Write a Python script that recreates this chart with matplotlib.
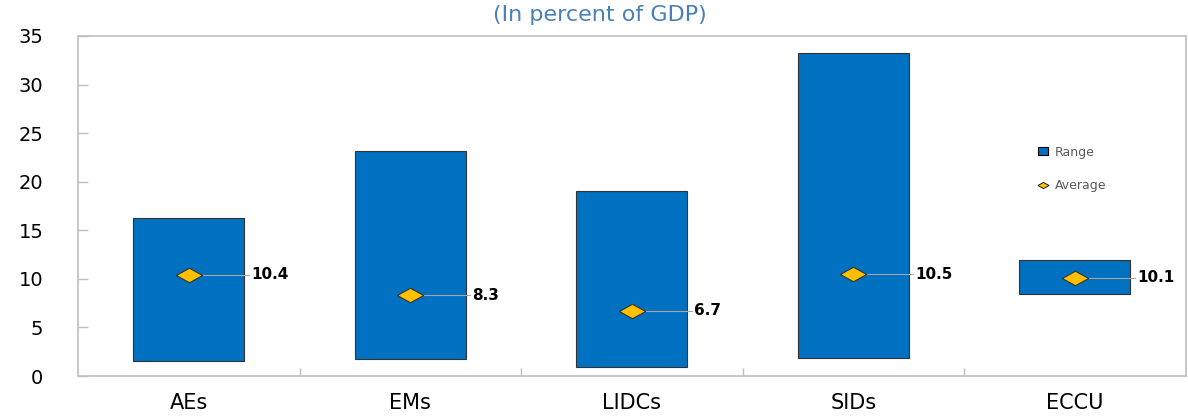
import numpy as np
import matplotlib
matplotlib.use("Agg")
import matplotlib.pyplot as plt
from matplotlib.patches import Patch
from matplotlib.lines import Line2D

plt.rcParams['font.family'] = ['DejaVu Sans']

# datos
categories = ['AEs', 'EMs', 'LIDCs', 'SIDs', 'ECCU']
range_low = [1.5, 1.7, 0.9, 1.9, 8.4]
range_high = [16.3, 23.2, 19.0, 33.2, 11.9]
average = [10.4, 8.3, 6.7, 10.5, 10.1]
yticks = [0, 5, 10, 15, 20, 25, 30, 35]

bar_color = '#0070C0'
diamond_color = '#FFC000'
axis_gray = '#BFBFBF'

fig = plt.figure(figsize=(11.88, 4.17), dpi=100)
ax = fig.add_axes([0.0657, 0.0983, 0.9323, 0.8154])

x = np.arange(len(categories))
heights = np.array(range_high) - np.array(range_low)
ax.bar(x, heights, bottom=range_low, width=0.5, color=bar_color,
       edgecolor='#333333', linewidth=0.8, zorder=2)

# rombos (promedio) con linea guia hacia la etiqueta
diamond = [(-1, 0), (0, 0.55), (1, 0), (0, -0.55), (-1, 0)]
for xi, v in zip(x, average):
    ax.plot([xi, xi + 0.27], [v, v], color='#A6A6A6', linewidth=0.8, zorder=3)
    ax.text(xi + 0.28, v, f'{v:.1f}', fontsize=11, fontweight='bold',
            va='center', ha='left', color='black', zorder=5)
ax.plot(x, average, linestyle='none', marker=diamond, markersize=19,
        markerfacecolor=diamond_color, markeredgecolor='#333333',
        markeredgewidth=0.8, zorder=4)

ax.set_xlim(-0.5, len(categories) - 0.5)
ax.set_ylim(0, 35)
ax.set_yticks(yticks)
ax.set_yticklabels([str(t) for t in yticks], fontsize=14)
ax.tick_params(axis='y', direction='in', length=7, color=axis_gray, pad=25, width=1)

# eje x: etiquetas centradas, marcas entre categorias
ax.set_xticks(x)
ax.set_xticklabels(categories, fontsize=15)
ax.tick_params(axis='x', length=0, pad=12)
ax.set_xticks(np.arange(0.5, len(categories) - 0.5, 1), minor=True)
ax.tick_params(axis='x', which='minor', direction='in', length=6, color=axis_gray, width=1)

for s in ax.spines.values():
    s.set_color(axis_gray)
    s.set_linewidth(1.2)

# leyenda
handles = [
    Patch(facecolor=bar_color, edgecolor='black', linewidth=0.8),
    Line2D([], [], linestyle='none', marker=diamond, markersize=8,
           markerfacecolor=diamond_color, markeredgecolor='black', markeredgewidth=0.6),
]
leg = ax.legend(handles, ['Range', 'Average'], loc='upper left',
                bbox_to_anchor=(0.857, 0.71), frameon=False, fontsize=9,
                labelspacing=1.6, handlelength=0.8, handleheight=0.6, handletextpad=0.5)
for t in leg.get_texts():
    t.set_color('#595959')

fig.text(0.505, 0.965, '(In percent of GDP)', ha='center', va='center',
         fontsize=16, color='#4A80B8')

fig.savefig('out.png', dpi=100)
